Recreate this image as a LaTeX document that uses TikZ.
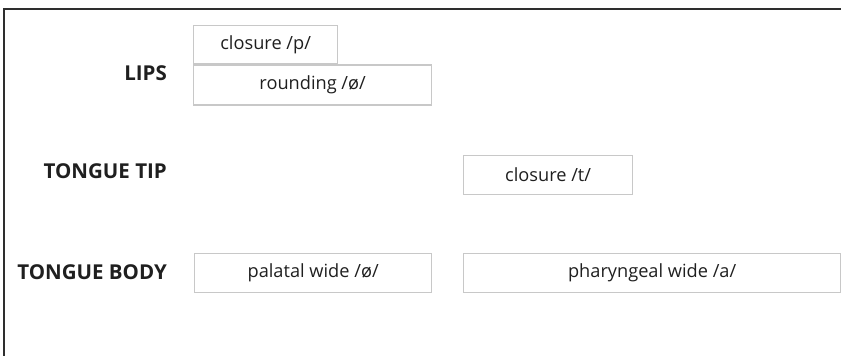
\documentclass[tikz,border=0pt]{standalone}
\usepackage{fontspec}
\setmainfont{Open Sans}
\usetikzlibrary{positioning}
\definecolor{framegray}{HTML}{2E2E2E}
\definecolor{boxgray}{HTML}{C8C8C8}
\tikzset{gesture/.style={draw=boxgray,line width=1.3pt,rectangle,inner sep=0pt,anchor=north west,font=\fontsize{18.2}{21}\selectfont,text=black!88}}
\tikzset{tier/.style={anchor=east,inner sep=0pt,font=\fontsize{20.5}{24}\selectfont\bfseries,text=black!88}}
\begin{document}
\begin{tikzpicture}[x=1pt,y=-1pt]
\useasboundingbox (0,0) rectangle (841,356);
% draw frame
\draw[framegray,line width=1.8pt] (4,356) -- (4,9) -- (841,9);
% draw tier names
\node[tier] (lips) at (167,73) {LIPS};
\node[tier] (tip) at (167,171) {TONGUE TIP};
\node[tier] (body) at (167,272) {TONGUE BODY};
% draw gestures
\node[gesture,minimum width=144pt,minimum height=38pt] (lipsclo) at (193,25) {closure /p/};
\node[gesture,minimum width=238pt,minimum height=40pt,below=0pt of lipsclo.south west,anchor=north west] (lipsrnd) {rounding /ø/};
\node[gesture,minimum width=169pt,minimum height=39pt] (tipclo) at (463,155) {closure /t/};
\node[gesture,minimum width=237pt,minimum height=39pt] (bodypal) at (194,253) {palatal wide /ø/};
\node[gesture,minimum width=377pt,minimum height=39pt] (bodyphar) at (463,253) {pharyngeal wide /a/};
\end{tikzpicture}
\end{document}
